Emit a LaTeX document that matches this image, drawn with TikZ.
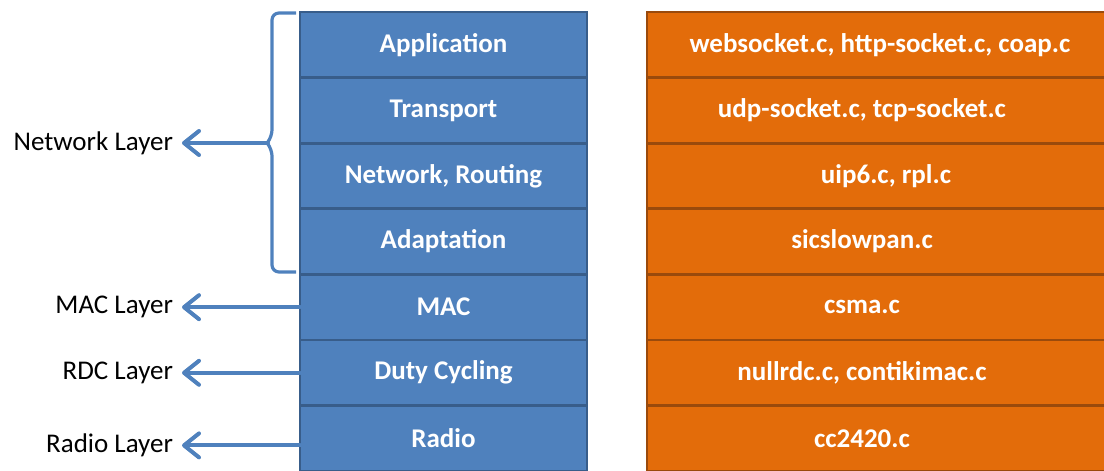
\documentclass[tikz,border=0pt]{standalone}
\usepackage{fontspec}
\setmainfont{Carlito}
\usetikzlibrary{arrows.meta,positioning}
\definecolor{lyblue}{HTML}{4F81BD}
\definecolor{lybluedark}{HTML}{385D8A}
\definecolor{lyorange}{HTML}{E36C0A}
\definecolor{lyorangedark}{HTML}{9A4A0C}

\begin{document}
\begin{tikzpicture}[x=1pt,y=1pt,
  node distance=0pt,
  every node/.style={font=\fontsize{27}{31}\selectfont},
  layer/.style={draw=lybluedark,fill=lyblue,line width=2.8pt,minimum width=287pt,minimum height=65.6pt,outer sep=0pt,text=white,font=\fontsize{27}{31}\selectfont\bfseries},
  impl/.style={layer,draw=lyorangedark,fill=lyorange,minimum width=466pt},
  implleft/.style={impl,execute at end node={\hspace*{36pt}}},
  lbl/.style={anchor=east,inner sep=3pt,outer sep=6pt},
  brace/.style={draw=lyblue,line width=3.2pt},
  arrow/.style={-{Straight Barb[length=15pt,width=24pt,round]},line width=4pt,line cap=round,color=lyblue}
]
\useasboundingbox (0,0) rectangle (1104,471);
% protocol stack
\node[layer] (app) at (443.5,426.2) {Application};
\node[layer,below=of app] (trans) {Transport};
\node[layer,below=of trans] (net) {Network, Routing};
\node[layer,below=of net] (adapt) {Adaptation};
\node[layer,below=of adapt] (mac) {MAC};
\node[layer,below=of mac] (rdc) {Duty Cycling};
\node[layer,below=of rdc] (radio) {Radio};
% source files
\node[impl,right=60pt of app] (appsrc) {websocket.c, http-socket.c, coap.c};
\node[implleft,right=60pt of trans] (transsrc) {udp-socket.c, tcp-socket.c};
\node[impl,right=60pt of net,execute at begin node={\hspace*{12pt}}] (netsrc) {uip6.c, rpl.c};
\node[implleft,right=60pt of adapt] (adaptsrc) {sicslowpan.c};
\node[implleft,right=60pt of mac] (macsrc) {csma.c};
\node[implleft,right=60pt of rdc] (rdcsrc) {nullrdc.c, contikimac.c};
\node[implleft,right=60pt of radio] (radiosrc) {cc2420.c};
% brace over the upper four layers
\draw[brace,rounded corners=7pt] (296,458) -- (272,458) -- (272,334) -- (267,328);
\draw[brace,rounded corners=7pt] (267,328) -- (272,322) -- (272,199) -- (296,199);
\coordinate (bt) at (268,328);
% layer names
\node[lbl,left=86pt of bt] (netlbl) {Network Layer};
\node[lbl,left=118pt of mac.west] (maclbl) {MAC Layer};
\node[lbl,left=118pt of rdc.west] (rdclbl) {RDC Layer};
\node[lbl,left=118pt of radio.west,yshift=-7pt] (radiolbl) {Radio Layer};
\draw[arrow] (bt) -- (netlbl.east);
\draw[arrow] (mac.west) -- (maclbl.east);
\draw[arrow] (rdc.west) -- (rdclbl.east);
\draw[arrow] (radiolbl.east -| radio.west) -- (radiolbl.east);
\end{tikzpicture}
\end{document}
